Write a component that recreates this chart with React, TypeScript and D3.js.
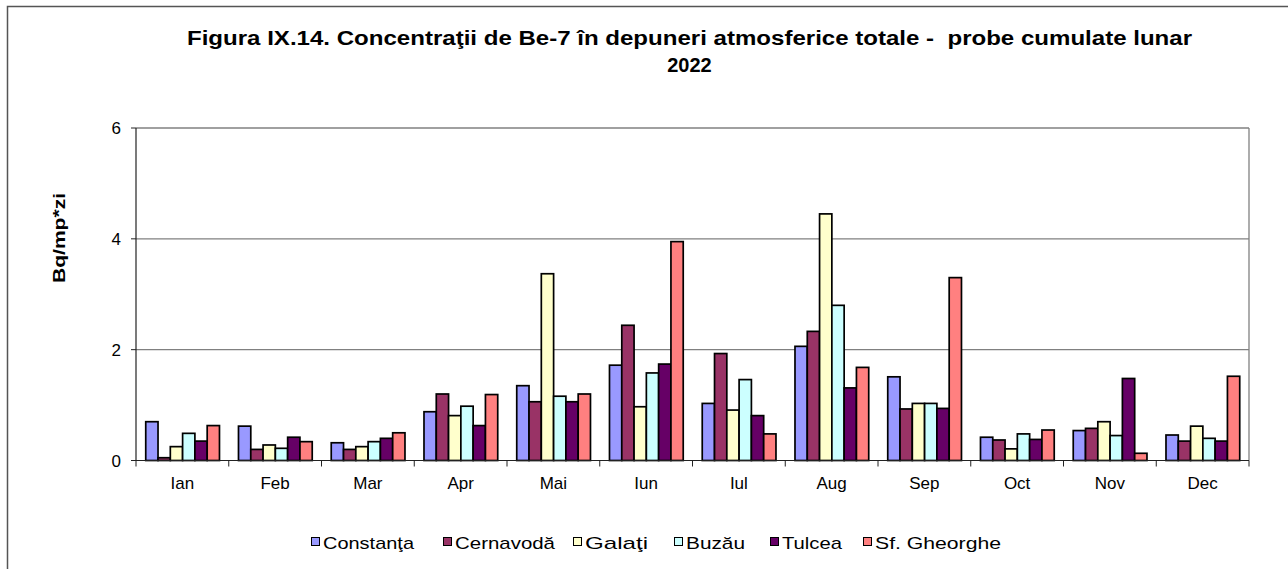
import React from "react";
import * as d3 from "d3";

const months = ["Ian", "Feb", "Mar", "Apr", "Mai", "Iun", "Iul", "Aug", "Sep", "Oct", "Nov", "Dec"];
const seriesNames = ["Constanţa", "Cernavodă", "Galaţi", "Buzău", "Tulcea", "Sf. Gheorghe"];
const seriesColors = ["#9999FF", "#993366", "#FFFFCC", "#CCFFFF", "#660066", "#FF8080"];

const constanta = [0.70, 0.62, 0.32, 0.88, 1.35, 1.72, 1.03, 2.06, 1.51, 0.42, 0.54, 0.46];
const cernavoda = [0.05, 0.20, 0.20, 1.20, 1.06, 2.44, 1.93, 2.33, 0.93, 0.37, 0.58, 0.35];
const galati = [0.25, 0.28, 0.25, 0.81, 3.37, 0.97, 0.91, 4.45, 1.03, 0.21, 0.70, 0.62];
const buzau = [0.49, 0.22, 0.34, 0.98, 1.16, 1.58, 1.46, 2.80, 1.03, 0.48, 0.45, 0.40];
const tulcea = [0.35, 0.42, 0.40, 0.63, 1.06, 1.74, 0.81, 1.31, 0.94, 0.38, 1.48, 0.35];
const sfGheorghe = [0.63, 0.34, 0.50, 1.19, 1.20, 3.95, 0.48, 1.68, 3.30, 0.55, 0.13, 1.52];

const seriesValues = [constanta, cernavoda, galati, buzau, tulcea, sfGheorghe];
const yTicks = [0, 2, 4, 6];

const titleLine1 = "Figura IX.14. Concentraţii de Be-7 în depuneri atmosferice totale -  probe cumulate lunar";
const titleLine2 = "2022";
const yTitle = "Bq/mp*zi";

const FONT = "'Liberation Sans', Arial, sans-serif";

export default function App() {
  const W = 1288, H = 569;
  const x0 = 136, x1 = 1249;
  const yScale = d3.scaleLinear().domain([0, 6]).range([460.5, 128]);
  const xMonth = d3.scaleBand<string>().domain(months).range([x0, x1]).padding(0);
  const bw = xMonth.bandwidth();
  const xSeries = d3.scaleBand<string>().domain(seriesNames).range([bw * 0.105, bw * 0.9]).padding(0);

  const legendX = [311, 443, 573, 674, 770, 863];
  const legendTextW = [91, 100, 63, 59, 60, 126];

  return (
    <svg width={W} height={H} style={{ position: "absolute", left: 0, top: 0, background: "#fff" }} fontFamily={FONT}>
      <rect x={0} y={0} width={W} height={H} fill="#fff" />
      <rect x={7.5} y={6.5} width={W + 20} height={H + 20} fill="none" stroke="#555" strokeWidth={1.5} />

      <text x={689.5} y={45} textAnchor="middle" fontSize={20} fontWeight="bold" textLength={1005} lengthAdjust="spacingAndGlyphs" style={{ whiteSpace: "pre" }}>{titleLine1}</text>
      <text x={689.5} y={72} textAnchor="middle" fontSize={20} fontWeight="bold">{titleLine2}</text>

      {yTicks.filter(t => t > 0).map(t => (
        <line key={t} x1={x0} x2={x1} y1={yScale(t)} y2={yScale(t)} stroke="#808080" strokeWidth={1.3} />
      ))}
      <line x1={x1} x2={x1} y1={yScale(6)} y2={yScale(0)} stroke="#808080" strokeWidth={1.3} />

      {months.map((m, i) => (
        <g key={m} transform={`translate(${xMonth(m)},0)`}>
          {seriesNames.map((s, j) => {
            const v = seriesValues[j][i];
            return (
              <rect key={s} x={xSeries(s)} y={yScale(v)} width={xSeries.bandwidth()} height={yScale(0) - yScale(v)}
                fill={seriesColors[j]} stroke="#000" strokeWidth={1.7} />
            );
          })}
        </g>
      ))}

      <line x1={x0} x2={x0} y1={yScale(6)} y2={yScale(0)} stroke="#222" strokeWidth={1.2} />
      <line x1={x0} x2={x1} y1={yScale(0)} y2={yScale(0)} stroke="#222" strokeWidth={1.2} />
      {yTicks.map(t => (
        <g key={t}>
          <line x1={x0 - 5} x2={x0} y1={yScale(t)} y2={yScale(t)} stroke="#222" strokeWidth={1} />
          <text x={121} y={yScale(t) + 6} textAnchor="end" fontSize={17}>{t}</text>
        </g>
      ))}
      {months.map(m => (
        <line key={m} x1={xMonth(m)} x2={xMonth(m)} y1={yScale(0)} y2={yScale(0) + 6} stroke="#222" strokeWidth={1} />
      ))}
      <line x1={x1} x2={x1} y1={yScale(0)} y2={yScale(0) + 6} stroke="#222" strokeWidth={1} />
      {months.map(m => (
        <text key={m} x={(xMonth(m) as number) + bw / 2} y={489} textAnchor="middle" fontSize={17}>{m}</text>
      ))}

      <text transform={`translate(65,238) rotate(-90)`} textAnchor="middle" fontSize={16} fontWeight="bold" textLength={90} lengthAdjust="spacingAndGlyphs">{yTitle}</text>

      {seriesNames.map((s, j) => (
        <g key={s}>
          <rect x={legendX[j] + 0.5} y={537.5} width={8} height={8} fill={seriesColors[j]} stroke="#000" strokeWidth={1} />
          <text x={legendX[j] + 12} y={549} fontSize={17} textLength={legendTextW[j]} lengthAdjust="spacingAndGlyphs">{s}</text>
        </g>
      ))}
    </svg>
  );
}
